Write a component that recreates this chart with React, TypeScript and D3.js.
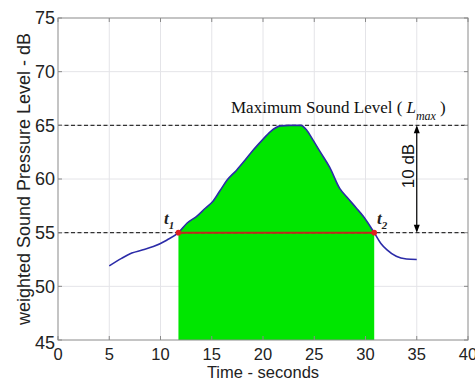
import React from "react";
import * as d3 from "d3";

const timeSec = [5, 6.2, 7.2, 8.3, 9.3, 10.6, 11.75, 12.6, 13.5, 14.4, 15.1, 15.8, 16.5, 17.4, 18.2, 19.05, 19.9, 20.7, 21.7, 22.6, 23.7, 24.3, 24.9, 25.6, 26.5, 27.5, 28.2, 29.1, 29.8, 30.85, 31.5, 32.1, 33.0, 34.0, 35.0];
const levelDb = [51.9, 52.6, 53.1, 53.4, 53.7, 54.3, 55.0, 55.9, 56.5, 57.3, 57.9, 58.9, 59.9, 60.8, 61.7, 62.7, 63.6, 64.4, 64.95, 65.0, 65.0, 64.5, 63.6, 62.5, 61.1, 59.1, 58.3, 57.3, 56.5, 55.0, 54.0, 53.4, 52.8, 52.55, 52.5];
const xTicks = [0, 5, 10, 15, 20, 25, 30, 35, 40];
const yTicks = [45, 50, 55, 60, 65, 70, 75];
const lMax = 65;
const lThreshold = 55;
const t1 = 11.75;
const t2 = 30.85;
const arrowTime = 35;

const W = 475, H = 379;
const M = { left: 58, right: 468, top: 18, bottom: 340 };

export default function App() {
  const x = d3.scaleLinear().domain([0, 40]).range([M.left, M.right]);
  const y = d3.scaleLinear().domain([45, 75]).range([M.bottom, M.top]);
  const pts = timeSec.map((t, i) => [t, levelDb[i]] as [number, number]);
  const line = d3.line<[number, number]>().x(d => x(d[0])).y(d => y(d[1])).curve(d3.curveMonotoneX);
  const inside = pts.filter(d => d[0] >= t1 && d[0] <= t2);
  const area = d3.area<[number, number]>().x(d => x(d[0])).y0(y(45)).y1(d => y(d[1])).curve(d3.curveMonotoneX);
  const font = "Arial, 'Liberation Sans', sans-serif";
  const serif = "'Times New Roman', 'Liberation Serif', serif";
  const ax = x(arrowTime);
  return (
    <svg width={W} height={H} style={{ position: "absolute", left: 0, top: 0, background: "#fff" }} fontFamily={font}>
      <rect x={0} y={0} width={W} height={H} fill="#fff" />
      {xTicks.slice(1, -1).map(t => (
        <line key={"gx" + t} x1={x(t)} x2={x(t)} y1={M.top} y2={M.bottom} stroke="#e4e4e8" strokeWidth={1} />
      ))}
      {yTicks.slice(1, -1).map(t => (
        <line key={"gy" + t} x1={M.left} x2={M.right} y1={y(t)} y2={y(t)} stroke="#e4e4e8" strokeWidth={1} />
      ))}
      <path d={area(inside) || ""} fill="#00e600" />
      <line x1={x(0)} x2={x(40)} y1={y(lMax)} y2={y(lMax)} stroke="#333" strokeWidth={1.3} strokeDasharray="4,2.5" />
      <line x1={x(0)} x2={x(40)} y1={y(lThreshold)} y2={y(lThreshold)} stroke="#333" strokeWidth={1.3} strokeDasharray="4,2.5" />
      <line x1={x(t1)} x2={x(t2)} y1={y(lThreshold)} y2={y(lThreshold)} stroke="#c0281e" strokeWidth={2} />
      <path d={line(pts) || ""} fill="none" stroke="#2b2ba8" strokeWidth={1.6} />
      {[t1, t2].map(t => (
        <circle key={"m" + t} cx={x(t)} cy={y(lThreshold)} r={2.8} fill="#e02020" />
      ))}
      <line x1={ax} x2={ax} y1={y(lMax) + 2} y2={y(lThreshold) - 2} stroke="#000" strokeWidth={1.2} />
      <path d={`M${ax},${y(lMax)} l-3,8 l6,0 z`} fill="#000" />
      <path d={`M${ax},${y(lThreshold)} l-3,-8 l6,0 z`} fill="#000" />
      <text transform={`translate(414,166) rotate(-90)`} textAnchor="middle" fontSize={17} fill="#111">10 dB</text>
      <text x={231} y={113} fontFamily={serif} fontSize={17} fill="#111">
        Maximum Sound Level (
        <tspan fontStyle="italic" dx={4}>L</tspan>
        <tspan fontStyle="italic" fontSize={12} dy={7}>max</tspan>
        <tspan dy={-7} dx={4}>)</tspan>
      </text>
      <text x={164} y={224} fontFamily={serif} fontStyle="italic" fontWeight="bold" fontSize={17} fill="#222">t
        <tspan fontSize={11} dy={5}>1</tspan>
      </text>
      <text x={377} y={224} fontFamily={serif} fontStyle="italic" fontWeight="bold" fontSize={17} fill="#222">t
        <tspan fontSize={11} dy={5}>2</tspan>
      </text>
      <rect x={M.left} y={M.top} width={M.right - M.left} height={M.bottom - M.top} fill="none" stroke="#8a8a8a" strokeWidth={1} />
      {xTicks.map(t => (
        <g key={"xt" + t}>
          <line x1={x(t)} x2={x(t)} y1={M.bottom} y2={M.bottom - 4} stroke="#8a8a8a" />
          <line x1={x(t)} x2={x(t)} y1={M.top} y2={M.top + 4} stroke="#8a8a8a" />
          <text x={x(t)} y={359.5} textAnchor="middle" fontSize={16.5} fill="#222">{t}</text>
        </g>
      ))}
      {yTicks.map(t => (
        <g key={"yt" + t}>
          <line x1={M.left} x2={M.left + 4} y1={y(t)} y2={y(t)} stroke="#8a8a8a" />
          <line x1={M.right} x2={M.right - 4} y1={y(t)} y2={y(t)} stroke="#8a8a8a" />
          <text x={55} y={y(t) + (t === 45 ? 8.5 : 6.3)} textAnchor="end" fontSize={18} fill="#222">{t}</text>
        </g>
      ))}
      <text x={263} y={377.5} textAnchor="middle" fontSize={16.5} fill="#222">Time - seconds</text>
      <text transform={`translate(30,179) rotate(-90)`} textAnchor="middle" fontSize={18} fill="#222">weighted Sound Pressure Level - dB</text>
    </svg>
  );
}
